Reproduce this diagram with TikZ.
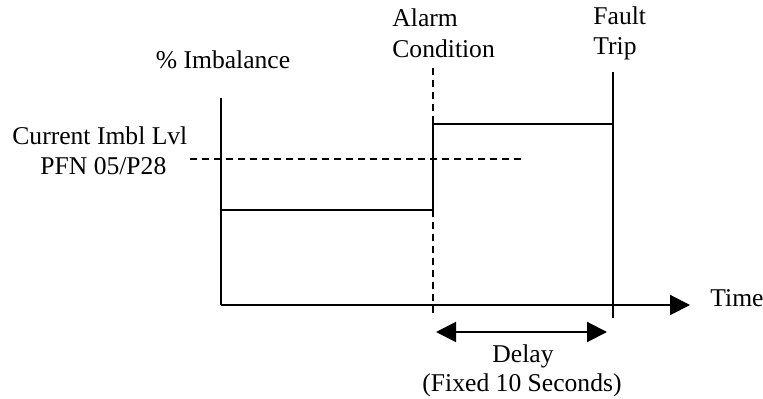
\documentclass[tikz,border=0pt]{standalone}
\usepackage{fontspec}
\setmainfont{Liberation Serif}
\usetikzlibrary{arrows.meta}
\begin{document}
\begin{tikzpicture}[x=0.5pt,y=-0.5pt,
  lbl/.style={inner sep=0pt, font=\fontsize{12.8}{15}\selectfont},
  axis/.style={line width=1pt},
  dsh/.style={line width=1pt, dash pattern=on 3.5pt off 2.5pt},
  tri/.tip={Triangle[length=10pt,width=10pt]}]
\useasboundingbox (0,0) rectangle (763,399);
% coordinates
\coordinate (ytop) at (221,98);
\coordinate (orig) at (221,305);
\coordinate (xend) at (690,305);
\coordinate (lowL) at (221,210);
\coordinate (lowR) at (433,210);
\coordinate (highL) at (433,124);
\coordinate (highR) at (613,124);
\coordinate (alTop) at (433,68);
\coordinate (alBot) at (433,318);
\coordinate (ftTop) at (613,72);
\coordinate (ftBot) at (613,318);
\coordinate (thL) at (190,159);
\coordinate (thR) at (521,159);
\coordinate (dL) at (436,332);
\coordinate (dR) at (607,332);
% lines
\draw[axis] (ytop) -- (orig);
\draw[axis,-tri] (orig) -- (xend);
\draw[axis] (lowL) -- (lowR) -- (highL) -- (highR);
\draw[dsh] (alTop) -- (highL);
\draw[dsh] (lowR) -- (alBot);
\draw[axis] (ftTop) -- (ftBot);
\draw[dsh] (thL) -- (thR);
\draw[axis,tri-tri] (dL) -- (dR);
% labels
\node[lbl, anchor=base] (imb) at (223,69) {\% Imbalance};
\node[lbl, anchor=base west] (cur1) at (12,145) {Current Imbl Lvl};
\node[lbl, anchor=base west] (cur2) at (40,175) {PFN 05/P28};
\node[lbl, anchor=base west] (al1) at (392,27) {Alarm};
\node[lbl, anchor=base west] (al2) at (392,58) {Condition};
\node[lbl, anchor=base west] (ft1) at (593,25) {Fault};
\node[lbl, anchor=base west] (ft2) at (593,55) {Trip};
\node[lbl, anchor=base west] (time) at (710,307) {Time};
\node[lbl, anchor=base] (del1) at (523,363) {Delay};
\node[lbl, anchor=base] (del2) at (522,392) {(Fixed 10 Seconds)};
\end{tikzpicture}
\end{document}
